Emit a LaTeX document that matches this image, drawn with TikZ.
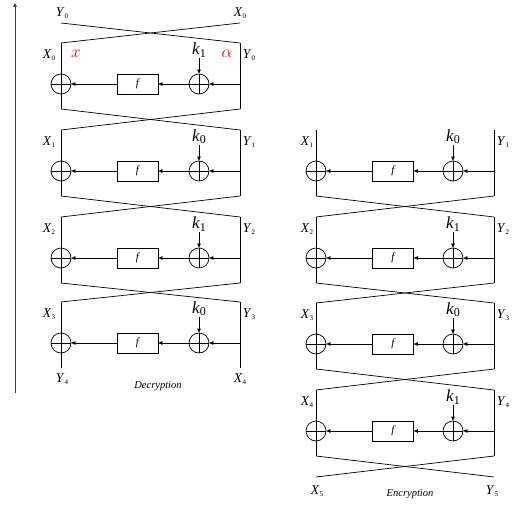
\documentclass[tikz,border=0pt]{standalone}
\usepackage{fontspec}
\setmainfont{Liberation Serif}
\usetikzlibrary{arrows.meta}
\newcommand\lab[2]{{\fontsize{13.5}{13.5}\selectfont\textit{#1}}\raisebox{-0.45ex}{\fontsize{7}{7}\selectfont #2}}
\newcommand\kk[1]{{\fontsize{17}{17}\selectfont\textit{k}}\raisebox{-0.5ex}{\fontsize{12}{12}\selectfont #1}}
\def\xg{-12}
\newcommand\frow[9]{%
  \coordinate (#1tl) at (#2,#6);
  \coordinate (#1tr) at (#5,#6);
  \coordinate (#1bl) at (#2,#6+66);
  \coordinate (#1br) at (#5,#6+66);
  \node[xorc] (#1xl) at (#2,#6+41) {};
  \node[xorc] (#1xr) at (#3,#6+41) {};
  \node[fbox] (#1f) at (#4,#6+41) {f};
  \coordinate (#1in) at (#5,#6+41);
  \node[klab] (#1k) at (#3,#6+7) {\kk{#7}};
  \node[lbl] (#1X) at (#2+\xg,#6+12) {\lab{X}{#8}};
  \node[lbl] (#1Y) at (#5+9,#6+12) {\lab{Y}{#9}};
  \draw (#1tl) -- (#1bl);
  \draw (#1tr) -- (#1br);
  \draw[arr] (#1in) -- (#1xr);
  \draw[arr] (#1xr) -- (#1f);
  \draw[arr] (#1f) -- (#1xl);
  \draw[arr] (#1k.south -| #1xr) -- (#1xr);
}
\begin{document}
\begin{tikzpicture}[x=1pt,y=-1pt,line width=0.7pt,
  xorc/.style={circle,draw,minimum size=20pt,inner sep=0pt,
    path picture={\draw (path picture bounding box.north)--(path picture bounding box.south)
      (path picture bounding box.west)--(path picture bounding box.east);}},
  fbox/.style={draw,minimum width=41pt,minimum height=20pt,inner sep=0pt,font=\fontsize{11}{11}\selectfont\itshape},
  arr/.style={-{Triangle[length=4pt,width=3.5pt]}},
  lbl/.style={inner sep=0pt},
  klab/.style={inner sep=1pt},
  capt/.style={inner sep=0pt,font=\fontsize{10.5}{10.5}\selectfont\itshape},
  redm/.style={inner sep=0pt,text=red,font=\fontsize{18}{18}\selectfont}]
\useasboundingbox (0,0) rectangle (530,511);
% ---------- Decryption (left) ----------
\def\xg{-12}
\frow{A}{61}{199}{137.5}{240}{43}{1}{0}{0}
\frow{B}{61}{199}{137.5}{240}{130}{0}{1}{1}
\frow{C}{61}{199}{137.5}{240}{217}{1}{2}{2}
\frow{D}{61}{199}{137.5}{240}{302}{0}{3}{3}
\coordinate (Atopl) at (61,23);
\coordinate (Atopr) at (240,23);
\draw (Atopl) -- (Atr);
\draw (Atopr) -- (Atl);
\draw (Abl) -- (Btr); \draw (Abr) -- (Btl);
\draw (Bbl) -- (Ctr); \draw (Bbr) -- (Ctl);
\draw (Cbl) -- (Dtr); \draw (Cbr) -- (Dtl);
\node[lbl] (AY0) at (62,13) {\lab{Y}{0}};
\node[lbl] (AX0) at (240,13) {\lab{X}{0}};
\node[lbl] (DY4) at (62,379) {\lab{Y}{4}};
\node[lbl] (DX4) at (240,379) {\lab{X}{4}};
\node[redm] (redx) at (76,54) {$x$};
\node[redm] (reda) at (227,54) {$\alpha$};
\node[capt] (dec) at (158,386) {Decryption};
\coordinate (arrb) at (15,393);
\coordinate (arrt) at (15,3);
\draw[arr,black!75] (arrb) -- (arrt);
% ---------- Encryption (right) ----------
\def\xg{-9}
\frow{E}{316}{453}{393}{494}{130}{0}{1}{1}
\frow{F}{316}{453}{393}{494}{217}{1}{2}{2}
\frow{G}{316}{453}{393}{494}{303}{0}{3}{3}
\frow{H}{316}{453}{393}{494}{390}{1}{4}{4}
\draw (Ebl) -- (Ftr); \draw (Ebr) -- (Ftl);
\draw (Fbl) -- (Gtr); \draw (Fbr) -- (Gtl);
\draw (Gbl) -- (Htr); \draw (Gbr) -- (Htl);
\coordinate (Hendl) at (316,477);
\coordinate (Hendr) at (494,477);
\draw (Hbl) -- (Hendr);
\draw (Hbr) -- (Hendl);
\node[lbl] (HX5) at (317,491) {\lab{X}{5}};
\node[lbl] (HY5) at (492,491) {\lab{Y}{5}};
\node[capt] (enc) at (410,494) {Encryption};
\end{tikzpicture}
\end{document}
